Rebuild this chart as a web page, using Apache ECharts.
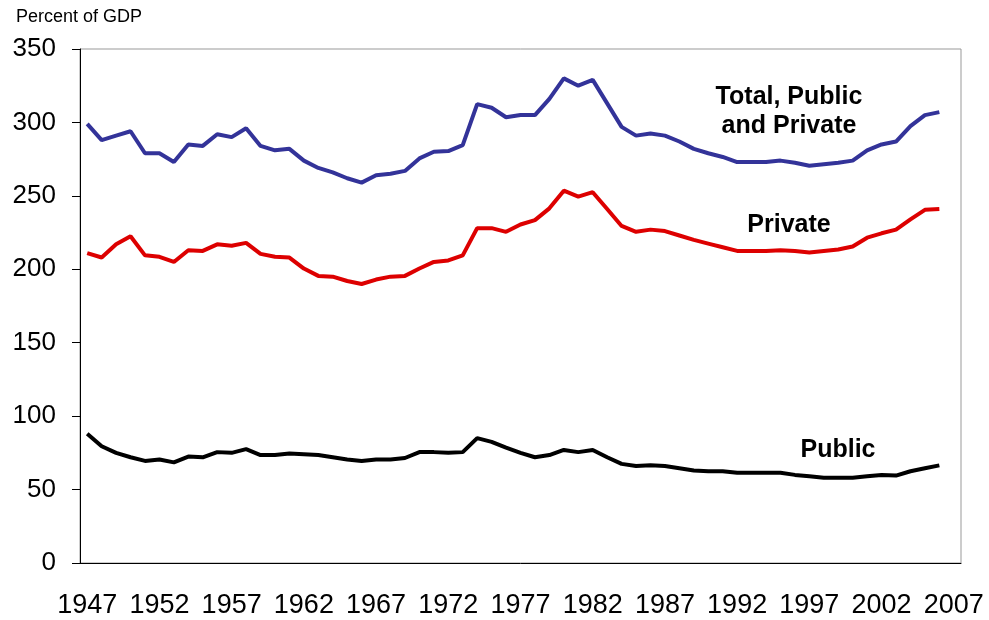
<!DOCTYPE html>
<html>
<head>
<meta charset="utf-8">
<script src="https://cdn.jsdelivr.net/npm/echarts@6/dist/echarts.min.js"></script>
<style>
  html, body { margin: 0; padding: 0; background: #fff; }
  #main { width: 989px; height: 620px; }
</style>
</head>
<body>
<div id="main"></div>
<script>
var years = ['1947','1948','1949','1950','1951','1952','1953','1954','1955','1956',
  '1957','1958','1959','1960','1961','1962','1963','1964','1965','1966',
  '1967','1968','1969','1970','1971','1972','1973','1974','1975','1976',
  '1977','1978','1979','1980','1981','1982','1983','1984','1985','1986',
  '1987','1988','1989','1990','1991','1992','1993','1994','1995','1996',
  '1997','1998','1999','2000','2001','2002','2003','2004','2005','2006','2007'];

var total = [299, 288, 291, 294, 279, 279, 273, 285, 284, 292,
  290, 296, 284, 281, 282, 274, 269, 266, 262, 259,
  264, 265, 267, 275.5, 280, 280.5, 284.5, 312.5, 310, 303.5,
  305, 305, 316, 330, 325, 329, 313, 297, 291, 292.5,
  291, 287, 282, 279, 276.5, 273, 273, 273, 274, 272.5,
  270.5, 271.5, 272.5, 274, 281, 285, 287, 297.5, 305, 307];

var privateShare = [211, 208, 217, 222.5, 209.5, 208.5, 205, 213, 212.5, 217,
  216, 218, 210.5, 208.5, 208, 200.5, 195.5, 195, 192, 190,
  193, 195, 195.5, 200.5, 205, 206, 209.5, 228, 228, 225.5,
  230.5, 233.5, 241.5, 253.5, 249.5, 252.5, 241, 229.5, 225.5, 227,
  226, 223, 220, 217.5, 215, 212.5, 212.5, 212.5, 213, 212.5,
  211.5, 212.5, 213.5, 215.5, 221.5, 224.5, 227, 234, 240.5, 241];

var publicShare = [88, 79.5, 75, 72, 69.5, 70.5, 68.5, 72.5, 72, 75.5,
  75, 77.5, 73.5, 73.5, 74.5, 74, 73.5, 72, 70.5, 69.5,
  70.5, 70.5, 71.5, 75.5, 75.5, 75, 75.5, 85, 82.5, 78.5,
  75, 72, 73.5, 77, 75.5, 77, 72, 67.5, 66, 66.5,
  66, 64.5, 63, 62.5, 62.5, 61.5, 61.5, 61.5, 61.5, 60,
  59, 58, 58, 58, 59, 60, 59.5, 62.5, 64.5, 66.5];

var font = "'Liberation Sans', Arial, sans-serif";

var chart = echarts.init(document.getElementById('main'));

var option = {
  backgroundColor: '#fff',
  animation: false,
  title: {
    text: 'Percent of GDP',
    left: 11,
    top: 3,
    textStyle: { fontFamily: font, fontSize: 18, fontWeight: 'normal', color: '#000' }
  },
  grid: {
    left: 80, right: 28, top: 49, bottom: 57,
    show: true,
    borderColor: '#999',
    borderWidth: 1,
    backgroundColor: '#fff'
  },
  xAxis: {
    type: 'category',
    data: years,
    boundaryGap: true,
    axisLine: { lineStyle: { color: '#000', width: 1 } },
    axisTick: { interval: 0, length: 9, lineStyle: { color: '#000' } },
    axisLabel: { interval: 4, margin: 29, fontFamily: font, fontSize: 27, color: '#000' },
    splitLine: { show: false }
  },
  yAxis: {
    type: 'value',
    min: 0, max: 350, interval: 50,
    axisLine: { show: true, lineStyle: { color: '#000', width: 1 } },
    axisTick: { show: true, length: 8, lineStyle: { color: '#000' } },
    axisLabel: { margin: 24, fontFamily: font, fontSize: 26, color: '#000' },
    splitLine: { show: false }
  },
  series: [
    {
      name: 'Total, Public and Private', type: 'line', data: total,
      symbol: 'none', lineStyle: { color: '#333399', width: 4 }
    },
    {
      name: 'Private', type: 'line', data: privateShare,
      symbol: 'none', lineStyle: { color: '#dd0000', width: 4 }
    },
    {
      name: 'Public', type: 'line', data: publicShare,
      symbol: 'none', lineStyle: { color: '#000000', width: 4 }
    }
  ],
  graphic: [
    {
      type: 'text', x: 789, y: 112,
      style: {
        text: 'Total, Public\nand Private', fill: '#000', align: 'center', verticalAlign: 'middle',
        font: 'bold 25px ' + font, lineHeight: 29
      }
    },
    {
      type: 'text', x: 789, y: 225,
      style: { text: 'Private', fill: '#000', align: 'center', verticalAlign: 'middle', font: 'bold 25px ' + font }
    },
    {
      type: 'text', x: 838, y: 450,
      style: { text: 'Public', fill: '#000', align: 'center', verticalAlign: 'middle', font: 'bold 25px ' + font }
    }
  ]
};

chart.setOption(option);
</script>
</body>
</html>
